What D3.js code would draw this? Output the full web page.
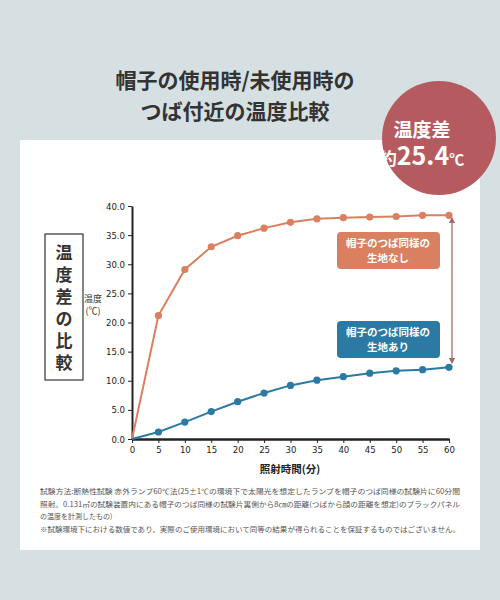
<!DOCTYPE html><html><head><meta charset="utf-8"><script src="https://d3js.org/d3.v7.min.js"></script>
<style>body{margin:0}svg{display:block;font-family:'Noto Sans CJK JP',sans-serif}</style></head><body><svg id="c" width="500" height="600"></svg>
<script>
const minutes=[0,5,10,15,20,25,30,35,40,45,50,55,60];
const without=[0,21.2,29.1,33.0,34.9,36.2,37.2,37.8,38.0,38.1,38.2,38.4,38.4];
const withFabric=[0,1.2,2.9,4.7,6.4,7.9,9.2,10.1,10.7,11.3,11.7,11.9,12.3];
const yTicks=[0,5,10,15,20,25,30,35,40];
const svg=d3.select("#c");
svg.append("rect").attr("width",500).attr("height",600).attr("fill","#d6e0e2");
svg.append("rect").attr("x",20).attr("y",140).attr("width",460).attr("height",410).attr("fill","#fff");
svg.append("text").attr("x",235).attr("y",88).attr("text-anchor","middle").attr("font-size",21).attr("font-weight",700).attr("fill","#333").text("帽子の使用時/未使用時の");
svg.append("text").attr("x",235).attr("y",119).attr("text-anchor","middle").attr("font-size",21).attr("font-weight",700).attr("fill","#333").text("つば付近の温度比較");
svg.append("circle").attr("cx",439).attr("cy",138).attr("r",57).attr("fill","#b55b5f");
svg.append("text").attr("x",422).attr("y",137).attr("text-anchor","middle").attr("font-size",19).attr("font-weight",700).attr("fill","#fff").text("温度差");
const t2=svg.append("text").attr("x",422).attr("y",165).attr("text-anchor","middle").attr("fill","#fff").attr("font-weight",700);
t2.append("tspan").attr("font-size",17).text("約");
t2.append("tspan").attr("font-size",25).text("25.4");
t2.append("tspan").attr("font-size",15).text("℃");
svg.append("rect").attr("x",45).attr("y",234).attr("width",38).attr("height",146).attr("fill","none").attr("stroke","#333").attr("stroke-width",1.2);
"温度差の比較".split("").forEach((c,i)=>svg.append("text").attr("x",64).attr("y",259+i*22).attr("text-anchor","middle").attr("font-size",17).attr("font-weight",700).attr("fill","#333").text(c));
svg.append("text").attr("x",93).attr("y",302).attr("text-anchor","middle").attr("font-size",9).attr("fill","#333").text("温度");
svg.append("text").attr("x",93).attr("y",314).attr("text-anchor","middle").attr("font-size",9).attr("fill","#333").text("(℃)");
const x=d3.scaleLinear().domain([0,60]).range([132,449]);
const y=d3.scaleLinear().domain([0,40]).range([439,206]);
const ga=svg.append("g").attr("transform","translate(0,439)").call(d3.axisBottom(x).tickValues(minutes).tickSize(4).tickSizeOuter(0));
const gy=svg.append("g").attr("transform","translate(132,0)").call(d3.axisLeft(y).tickValues(yTicks).tickFormat(d3.format(".1f")).tickSize(4).tickSizeOuter(0));
[ga,gy].forEach(g=>{g.selectAll("text").attr("font-size",9.5).attr("fill","#222").attr("font-family","DejaVu Sans Condensed, sans-serif");g.selectAll("line,path").attr("stroke","#222");});
ga.select("path").attr("stroke-width",2.5);gy.select("path").attr("stroke-width",2);
svg.append("text").attr("x",290).attr("y",473).attr("text-anchor","middle").attr("font-size",10.5).attr("font-weight",700).attr("fill","#222").text("照射時間(分)");
const line=d3.line().x((d,i)=>x(minutes[i])).y(d=>y(d));
[[without,"#d98060"],[withFabric,"#2a7aa3"]].forEach(([s,c])=>{
svg.append("path").datum(s).attr("d",line).attr("fill","none").attr("stroke",c).attr("stroke-width",2);
svg.selectAll(null).data(s.slice(1)).join("circle").attr("cx",(d,i)=>x(minutes[i+1])).attr("cy",d=>y(d)).attr("r",3.6).attr("fill",c);});
svg.append("defs").html('<marker id="ah" viewBox="0 0 10 10" refX="5" refY="5" markerWidth="5" markerHeight="5" orient="auto-start-reverse"><path d="M0,0L10,5L0,10z" fill="#a86a6a"/></marker>');
svg.append("line").attr("x1",452).attr("x2",452).attr("y1",y(37.6)).attr("y2",y(13.4)).attr("stroke","#a86a6a").attr("stroke-width",1.3).attr("marker-start","url(#ah)").attr("marker-end","url(#ah)");
[[232,"#d98060","生地なし"],[321,"#2a7aa3","生地あり"]].forEach(([yy,c,l])=>{
svg.append("rect").attr("x",337).attr("y",yy).attr("width",103).attr("height",37).attr("rx",4).attr("fill",c);
svg.append("text").attr("x",388).attr("y",yy+15).attr("text-anchor","middle").attr("font-size",10.5).attr("font-weight",700).attr("fill","#fff").text("帽子のつば同様の");
svg.append("text").attr("x",388).attr("y",yy+30).attr("text-anchor","middle").attr("font-size",10.5).attr("font-weight",700).attr("fill","#fff").text(l);});
["試験方法:断熱性試験 赤外ランプ60℃法(25±1℃の環境下で太陽光を想定したランプを帽子のつば同様の試験片に60分間","照射。0.131㎡の試験装置内にある帽子のつば同様の試験片裏側から8㎝の距離(つばから顔の距離を想定)のブラックパネル","の温度を計測したもの)","※試験環境下における数値であり、実際のご使用環境において同等の結果が得られることを保証するものではございません。"].forEach((s,i)=>{
const tt=svg.append("text").attr("x",40).attr("y",494+i*12.5).attr("font-size",7).attr("fill","#555").text(s);
if(i!=2) tt.attr("textLength",420).attr("lengthAdjust","spacingAndGlyphs");});
</script></body></html>
